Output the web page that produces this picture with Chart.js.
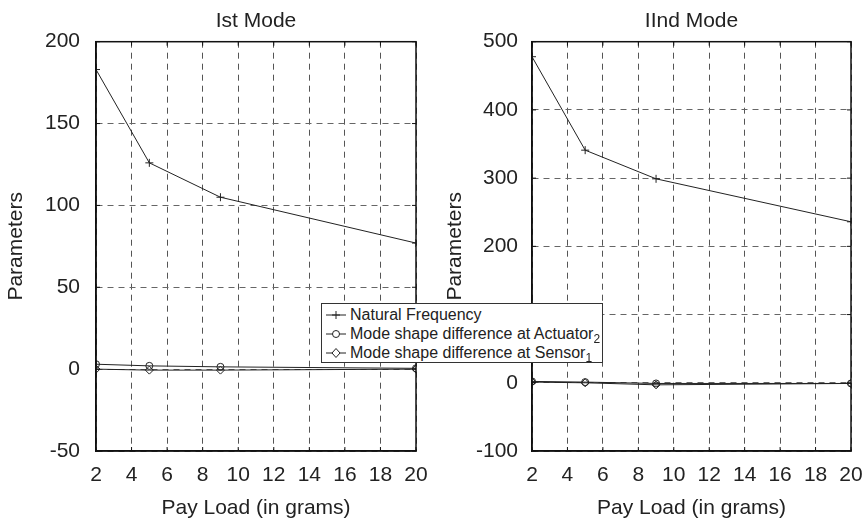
<!DOCTYPE html>
<html>
<head>
<meta charset="utf-8">
<script src="https://cdn.jsdelivr.net/npm/chart.js@4.4.1/dist/chart.umd.min.js"></script>
<style>
  html, body { margin: 0; padding: 0; background: #fff; }
  body { width: 863px; height: 524px; position: relative; overflow: hidden; font-family: "Liberation Sans", Arial, sans-serif; }
  .panel { position: absolute; top: 0; height: 524px; }
  #legend { position: absolute; left: 321px; top: 303px; width: 280px; height: 57px; background: #fff; border: 1px solid #333; font-size: 16px; color: #222; padding: 1px 0 0 0; box-sizing: content-box; }
  #legend .row { height: 19px; line-height: 19px; white-space: nowrap; display: flex; align-items: center; }
  #legend svg { margin: 0 4px 0 4px; flex: none; }
  #legend sub { font-size: 12px; position: relative; top: 5px; vertical-align: baseline; line-height: 0; }
</style>
</head>
<body>
<div class="panel" style="left:0;width:431px"><canvas id="c1" width="431" height="524"></canvas></div>
<div class="panel" style="left:431px;width:432px"><canvas id="c2" width="432" height="524"></canvas></div>
<div id="legend">
  <div class="row"><svg width="20" height="10"><line x1="0" y1="5" x2="20" y2="5" stroke="#222"/><line x1="10" y1="1" x2="10" y2="9" stroke="#222"/><line x1="6" y1="5" x2="14" y2="5" stroke="#222"/></svg>Natural Frequency</div>
  <div class="row"><svg width="20" height="10"><line x1="0" y1="5" x2="20" y2="5" stroke="#222"/><circle cx="10" cy="5" r="3.5" fill="#fff" stroke="#222"/></svg>Mode shape difference at Actuator<sub>2</sub></div>
  <div class="row"><svg width="20" height="10"><line x1="0" y1="5" x2="20" y2="5" stroke="#222"/><polygon points="10,0.5 14,5 10,9.5 6,5" fill="#fff" stroke="#222"/></svg>Mode shape difference at Sensor<sub>1</sub></div>
</div>
<script>
// pay load (grams)
const payLoad = [2, 5, 9, 20];

// Ist mode
const natFreq1   = [183, 126, 105, 77];
const actuator1  = [3, 2, 1.4, 0.5];
const sensor1    = [0, -0.6, -0.6, 0];

// IInd mode
const natFreq2   = [478, 341, 299, 236];
const actuator2  = [2, 1, -1, -1];
const sensor2    = [1, 0, -3, -1];

const FONT = { family: '"Liberation Sans", Arial, sans-serif', size: 21, weight: 'normal' };
const INK = '#222';

const boxPlugin = {
  id: 'box',
  afterDraw(chart) {
    const { ctx, chartArea: a, scales } = chart;
    ctx.save();
    ctx.strokeStyle = '#111';
    ctx.lineWidth = 1.5;
    ctx.strokeRect(a.left, a.top, a.right - a.left, a.bottom - a.top);
    // small inward tick marks
    ctx.lineWidth = 1;
    scales.x.ticks.forEach(t => {
      const px = scales.x.getPixelForValue(t.value);
      ctx.beginPath();
      ctx.moveTo(px, a.bottom); ctx.lineTo(px, a.bottom - 4);
      ctx.moveTo(px, a.top); ctx.lineTo(px, a.top + 4);
      ctx.stroke();
    });
    scales.y.ticks.forEach(t => {
      const py = scales.y.getPixelForValue(t.value);
      ctx.beginPath();
      ctx.moveTo(a.left, py); ctx.lineTo(a.left + 4, py);
      ctx.moveTo(a.right, py); ctx.lineTo(a.right - 4, py);
      ctx.stroke();
    });
    ctx.restore();
  }
};

function series(label, data, style, r) {
  return {
    label, data: payLoad.map((x, i) => ({ x, y: data[i] })),
    borderColor: INK, backgroundColor: 'rgba(255,255,255,0)', borderWidth: 1,
    pointStyle: style, pointRadius: r, pointBorderColor: INK, pointBorderWidth: 1,
    pointBackgroundColor: 'rgba(255,255,255,0)', tension: 0, fill: false,
  };
}

function makeChart(id, title, nf, act, sen, yMin, yMax, yStep, yAxisW, yTitlePad, yTickPad, padRight) {
  return new Chart(document.getElementById(id), {
    type: 'line',
    data: {
      datasets: [
        series('Natural Frequency', nf, 'cross', 4),
        series('Mode shape difference at Actuator2', act, 'circle', 3.5),
        series('Mode shape difference at Sensor1', sen, 'rectRot', 4),
      ],
    },
    options: {
      responsive: false, animation: false, maintainAspectRatio: false,
      layout: { padding: { left: 0, right: padRight, top: 0, bottom: 0 } },
      plugins: {
        legend: { display: false }, tooltip: { enabled: false },
        title: { display: true, text: title, color: INK, font: FONT, fullSize: false, padding: { top: 9, bottom: 7.5 } },
      },
      scales: {
        x: {
          type: 'linear', min: 2, max: 20,
          afterFit: s => { s.height = 73; s.paddingLeft = 0; s.paddingRight = 0; },
          ticks: { stepSize: 2, color: INK, font: FONT, padding: 12, maxRotation: 0, autoSkip: false },
          grid: { color: '#555', lineWidth: 1, drawTicks: false },
          border: { display: true, color: '#111', width: 1.5, dash: [6, 5] },
          title: { display: true, text: 'Pay Load (in grams)', color: INK, font: FONT, padding: { top: 0, bottom: 3 } },
        },
        y: {
          min: yMin, max: yMax,
          afterFit: s => { s.width = yAxisW; },
          ticks: { stepSize: yStep, color: INK, font: FONT, padding: yTickPad },
          grid: { color: '#666', lineWidth: 1, drawTicks: false },
          border: { display: true, color: '#111', width: 1.5, dash: [6, 5] },
          title: { display: true, text: 'Parameters', color: INK, font: FONT, padding: { top: yTitlePad, bottom: 0 } },
        },
      },
    },
    plugins: [boxPlugin],
  });
}

makeChart('c1', 'Ist Mode', natFreq1, actuator1, sensor1, -50, 200, 50, 96, 4, 16, 15);
makeChart('c2', 'IInd Mode', natFreq2, actuator2, sensor2, -100, 500, 100, 101, 12, 14, 12);
</script>
</body>
</html>
